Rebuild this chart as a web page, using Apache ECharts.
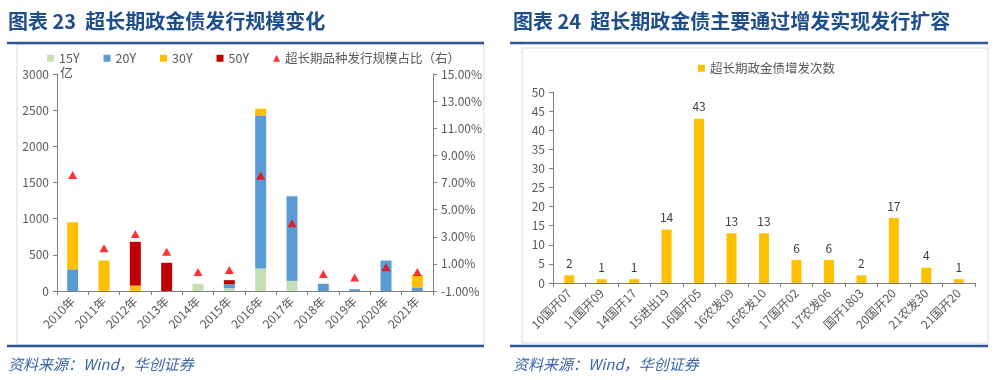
<!DOCTYPE html>
<html><head><meta charset="utf-8">
<script src="https://cdn.jsdelivr.net/npm/echarts@6/dist/echarts.min.js"></script>
<style>html,body{margin:0;padding:0;background:#fff}#c{width:1000px;height:380px}</style>
</head><body><div id="c"></div>
<script>
// Left chart data
const years = ['2010年','2011年','2012年','2013年','2014年','2015年','2016年','2017年','2018年','2019年','2020年','2021年'];
const s15Y = [0, 0, 0, 0, 100, 40, 310, 140, 0, 0, 0, 0];
const s20Y = [300, 0, 0, 0, 0, 55, 2110, 1170, 100, 25, 420, 50];
const s30Y = [650, 420, 75, 0, 0, 0, 100, 0, 0, 0, 0, 170];
const s50Y = [0, 0, 605, 390, 0, 55, 0, 0, 0, 0, 0, 0];
const shareRatio = [7.55, 2.15, 3.2, 1.9, 0.4, 0.55, 7.5, 4.0, 0.25, 0.0, 0.75, 0.4];
const leftTicks = {min: 0, max: 3000, interval: 500};
const rightTicks = {min: -1, max: 15, interval: 2};
// Right chart data
const bonds = ['10国开07','11国开09','14国开17','15进出19','16国开05','16农发09','16农发10','17国开02','17农发06','国开1803','20国开20','21农发30','21国开20'];
const reopenCount = [2, 1, 1, 14, 43, 13, 13, 6, 6, 2, 17, 4, 1];

const FONT = '"Noto Sans CJK SC", "Noto Sans", sans-serif';
const AX = '#7f7f7f', TXT = '#595959';
const BLUE = '#2f5597';

const chart = echarts.init(document.getElementById('c'), null, {renderer: 'canvas'});
const axisCommon = {
  axisLine: {show: true, lineStyle: {color: AX, width: 1}},
  axisTick: {show: true, length: 4, lineStyle: {color: AX}},
  splitLine: {show: false},
  axisLabel: {color: TXT, fontSize: 12, fontFamily: FONT, formatter: v => String(v)}
};
function bar(name, data, color) {
  return {name, type: 'bar', stack: 'a', data, xAxisIndex: 0, yAxisIndex: 0,
    barWidth: 11, itemStyle: {color}};
}
chart.setOption({
  animation: false,
  textStyle: {fontFamily: FONT},
  grid: [
    {left: 57, right: 567, top: 74, bottom: 89},
    {left: 553, right: 25, top: 92, bottom: 97}
  ],
  legend: [
    {left: 42, top: 47, itemWidth: 7, itemHeight: 7, itemGap: 24,
      textStyle: {color: TXT, fontSize: 12.5, fontFamily: FONT},
      data: [{name:'15Y', icon:'rect'},{name:'20Y', icon:'rect'},{name:'30Y', icon:'rect'},{name:'50Y', icon:'rect'},{name:'超长期品种发行规模占比（右）', icon:'triangle'}]},
    {left: 693, top: 57, itemWidth: 7, itemHeight: 7,
      textStyle: {color: TXT, fontSize: 12.5, fontFamily: FONT},
      data: [{name:'超长期政金债增发次数', icon:'rect'}]}
  ],
  xAxis: [
    Object.assign({}, axisCommon, {type: 'category', gridIndex: 0, data: years,
      axisTick: {show: true, length: 4, alignWithLabel: false, lineStyle: {color: AX}},
      axisLabel: {color: TXT, fontSize: 12, fontFamily: FONT, rotate: 45, interval: 0, margin: 8}}),
    Object.assign({}, axisCommon, {type: 'category', gridIndex: 1, data: bonds,
      axisTick: {show: true, length: 4, alignWithLabel: false, lineStyle: {color: AX}},
      axisLabel: {color: TXT, fontSize: 12, fontFamily: FONT, rotate: 45, interval: 0, margin: 8}})
  ],
  yAxis: [
    Object.assign({}, axisCommon, {type: 'value', gridIndex: 0, position: 'left',
      min: leftTicks.min, max: leftTicks.max, interval: leftTicks.interval}),
    Object.assign({}, axisCommon, {type: 'value', gridIndex: 0, position: 'right',
      min: rightTicks.min, max: rightTicks.max, interval: rightTicks.interval,
      axisLabel: {color: TXT, fontSize: 12, fontFamily: FONT, formatter: v => v.toFixed(2) + '%'}}),
    Object.assign({}, axisCommon, {type: 'value', gridIndex: 1, min: 0, max: 50, interval: 5})
  ],
  series: [
    bar('15Y', s15Y, '#c5e0b4'),
    bar('20Y', s20Y, '#5b9bd5'),
    bar('30Y', s30Y, '#ffc000'),
    bar('50Y', s50Y, '#c00000'),
    {name: '超长期品种发行规模占比（右）', type: 'scatter', xAxisIndex: 0, yAxisIndex: 1,
      data: shareRatio, symbol: 'triangle', symbolSize: [9, 8], itemStyle: {color: '#ff0000'}},
    {name: '超长期政金债增发次数', type: 'bar', xAxisIndex: 1, yAxisIndex: 2, data: reopenCount,
      barWidth: 10, itemStyle: {color: '#ffc000'},
      label: {show: true, position: 'top', color: '#404040', fontSize: 12, fontFamily: FONT, distance: 6}}
  ],
  graphic: [
    {type: 'text', left: 8, top: 11, style: {text: '图表 23  超长期政金债发行规模变化', font: 'bold 20px ' + FONT, fill: '#1f4e8c'}},
    {type: 'text', left: 513, top: 11, style: {text: '图表 24  超长期政金债主要通过增发实现发行扩容', font: 'bold 20px ' + FONT, fill: '#1f4e8c'}},
    {type: 'rect', shape: {x: 17, y: 44, width: 467, height: 301}, style: {fill: 'none', stroke: '#d9d9d9', lineWidth: 1}},
    {type: 'rect', shape: {x: 522, y: 48, width: 466, height: 295}, style: {fill: 'none', stroke: '#d9d9d9', lineWidth: 1}},
    {type: 'line', shape: {x1: 7, y1: 43, x2: 484, y2: 43}, style: {stroke: BLUE, lineWidth: 2.5}},
    {type: 'line', shape: {x1: 510, y1: 43, x2: 988, y2: 43}, style: {stroke: BLUE, lineWidth: 2.5}},
    {type: 'line', shape: {x1: 7, y1: 346, x2: 484, y2: 346}, style: {stroke: BLUE, lineWidth: 2.5}},
    {type: 'line', shape: {x1: 510, y1: 346, x2: 988, y2: 346}, style: {stroke: BLUE, lineWidth: 2.5}},
    {type: 'text', left: 60, top: 66, style: {text: '亿', font: '13px ' + FONT, fill: TXT}},
    {type: 'text', left: 8, top: 357, style: {text: '资料来源：Wind，华创证券', font: 'italic 15px ' + FONT, fill: '#3a64a8'}},
    {type: 'text', left: 513, top: 357, style: {text: '资料来源：Wind，华创证券', font: 'italic 15px ' + FONT, fill: '#3a64a8'}}
  ]
});
</script></body></html>
